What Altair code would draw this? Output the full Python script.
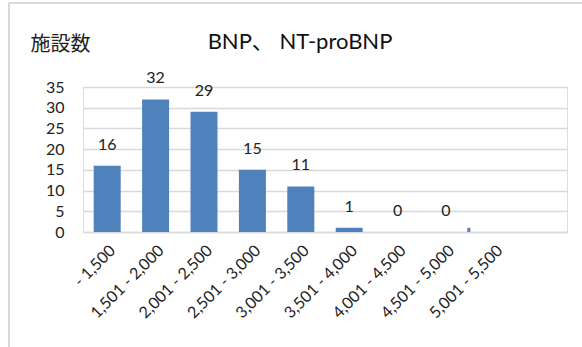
import altair as alt
import pandas as pd

# BNP / NT-proBNP cut-off ranges and number of facilities in each
categories = ["- 1,500", "1,501 - 2,000", "2,001 - 2,500", "2,501 - 3,000",
              "3,001 - 3,500", "3,501 - 4,000", "4,001 - 4,500", "4,501 - 5,000",
              "5,001 - 5,500"]
counts = [16, 32, 29, 15, 11, 1, 0, 0, 1]
labelled = [True, True, True, True, True, True, True, True, False]
axis_slots = categories + ["5,501 - 6,000"]
y_ticks = [0, 5, 10, 15, 20, 25, 30, 35]

df = pd.DataFrame({"range": categories, "count": counts, "labelled": labelled})

FONT = "Lato, Noto Sans CJK JP, sans-serif"
JP_FONT = "Noto Sans CJK JP"
BAR = "#4F81BD"
GRID = "#D9D9D9"

x_enc = alt.X("range:N", sort=axis_slots,
              scale=alt.Scale(domain=axis_slots, paddingInner=0.44, paddingOuter=0.22),
              axis=alt.Axis(title=None, labelAngle=-45, ticks=False,
                            domainColor=GRID, domainWidth=1.5,
                            labelFont=FONT, labelFontSize=16, labelColor="#222",
                            labelPadding=10, labelOverlap=False,
                            labelExpr="datum.value == '5,501 - 6,000' ? '' : datum.value"))

y_enc = alt.Y("count:Q", scale=alt.Scale(domain=[0, 35], nice=False),
              axis=alt.Axis(values=y_ticks, tickCount=8, domain=False, ticks=False,
                            gridColor=GRID, gridWidth=1.5,
                            labelFont=FONT, labelFontSize=16, labelColor="#222",
                            labelPadding=19, labelOverlap=False, labelFlush=False,
                            title="施設数", titleAngle=0, titleFont=JP_FONT,
                            titleFontSize=20, titleFontWeight="normal",
                            titleColor="#222", titleAlign="center",
                            titleBaseline="alphabetic", titleX=-23, titleY=-37))

is_last = alt.datum.range == "5,001 - 5,500"

bars = alt.Chart(df).transform_filter(~is_last).mark_bar(color=BAR, size=27).encode(
    x=x_enc, y=y_enc)

# the last range is cut off at the right edge of the drawing, only a sliver shows
last_bar = alt.Chart(df).transform_filter(is_last).mark_bar(color=BAR, size=3).encode(
    x=x_enc, y=y_enc, xOffset=alt.value(-12))

labels = alt.Chart(df).transform_filter(alt.datum.labelled).mark_text(
    font=FONT, fontSize=16, color="#222", baseline="alphabetic", dy=-16
).encode(x=x_enc, y=y_enc, text="count:Q")

# thin frame around the chart area
frame_left = alt.Chart(df).mark_rule(color=GRID, strokeWidth=1.5).encode(
    x=alt.value(-74), y=alt.value(-84), y2=alt.value(262))
frame_top = alt.Chart(df).mark_rule(color=GRID, strokeWidth=1.5).encode(
    x=alt.value(-74), x2=alt.value(502), y=alt.value(-84))

chart = alt.layer(bars, last_bar, labels, frame_left, frame_top).properties(
    width=484, height=145,
    title=alt.TitleParams("BNP、 NT-proBNP", font=FONT, fontSize=22,
                          fontWeight="normal", color="#111", anchor="middle",
                          baseline="alphabetic", offset=0, dx=-25, dy=69),
    autosize=alt.AutoSizeParams(type="none"),
    padding={"left": 83, "top": 87, "right": 15, "bottom": 115},
).configure_view(stroke=None).configure(background="white")

chart.save("out.html", embed_options={"renderer": "svg", "actions": False})
